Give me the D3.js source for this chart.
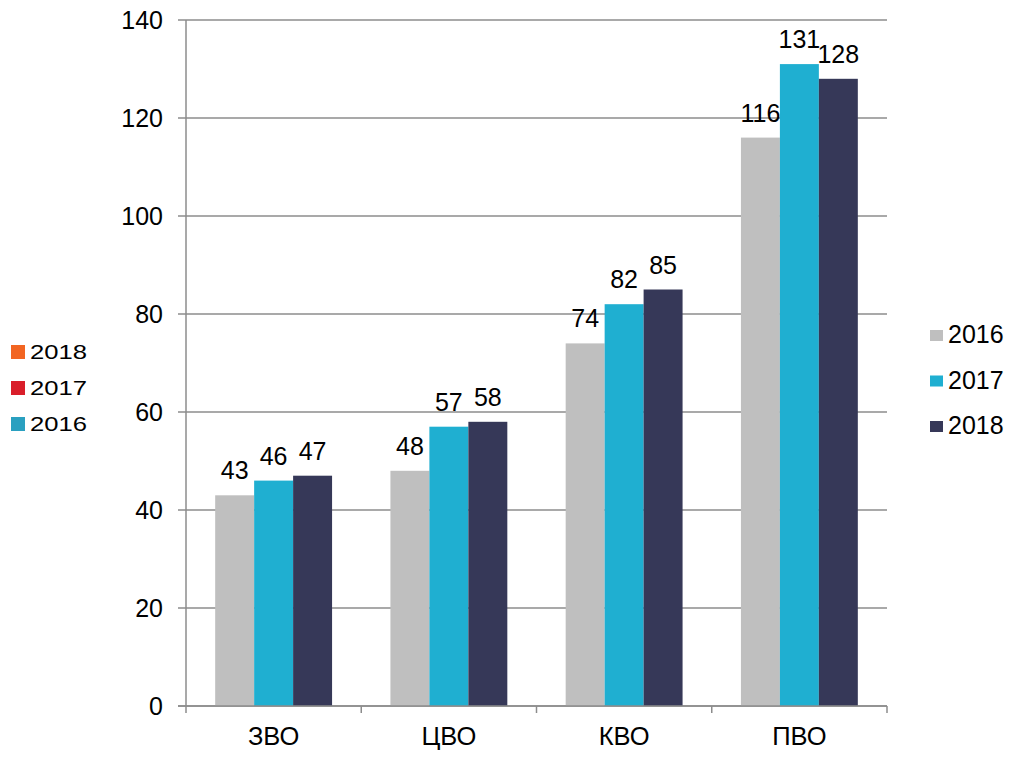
<!DOCTYPE html>
<html><head><meta charset="utf-8">
<script src="https://cdn.jsdelivr.net/npm/d3@7/dist/d3.min.js"></script>
<style>body{margin:0;background:#fff;} text{font-family:"Liberation Sans",Arial,sans-serif;}</style>
</head><body><svg id="c" width="1019" height="757"></svg>
<script>
const categories = ["ЗВО","ЦВО","КВО","ПВО"];
const series = ["2016","2017","2018"];
const values2016 = [43,48,74,116];
const values2017 = [46,57,82,131];
const values2018 = [47,58,85,128];
const yTicks = [0,20,40,60,80,100,120,140];
const colors = ["#bfbfbf","#1fafd1","#363858"];
const leftLegend = ["2018","2017","2016"];
const leftLegendColors = ["#f26522","#d91e2a","#2aa0c0"];

const svg = d3.select("#c");
const x0 = d3.scaleBand().domain(categories).range([186,887]).paddingInner(0.333).paddingOuter(0.1665);
const x1 = d3.scaleBand().domain(series).range([0,x0.bandwidth()]);
const y = d3.scaleLinear().domain([0,140]).range([706,20]);
const data = [values2016, values2017, values2018];

svg.append("g").selectAll("line").data(yTicks).join("line")
  .attr("x1",178).attr("x2",887).attr("y1",d=>y(d)).attr("y2",d=>y(d))
  .attr("stroke","#8c8c8c").attr("stroke-width",1.5);
svg.append("line").attr("x1",186).attr("x2",186).attr("y1",20).attr("y2",706).attr("stroke","#8c8c8c").attr("stroke-width",1.5);
svg.append("g").selectAll("text").data(yTicks).join("text")
  .attr("x",163).attr("y",d=>y(d)).attr("dy","0.36em").attr("text-anchor","end")
  .attr("font-size",25).attr("fill","#000").text(d=>d);
const bounds = [186, ...categories.map(c=>x0(c)+x0.bandwidth()+x0.step()*x0.paddingInner()/2)];
svg.append("g").selectAll("line").data(bounds).join("line")
  .attr("x1",d=>d).attr("x2",d=>d).attr("y1",706).attr("y2",713)
  .attr("stroke","#8c8c8c").attr("stroke-width",1.5);
categories.forEach((c,i)=>{
  series.forEach((s,j)=>{
    const v = data[j][i];
    svg.append("rect").attr("x",x0(c)+x1(s)).attr("width",x1.bandwidth())
      .attr("y",y(v)).attr("height",706-y(v)).attr("fill",colors[j]);
  });
});
svg.append("line").attr("x1",178).attr("x2",887).attr("y1",706).attr("y2",706).attr("stroke","#8c8c8c").attr("stroke-width",1.5);
categories.forEach((c,i)=>{
  series.forEach((s,j)=>{
    const v = data[j][i];
    svg.append("text").attr("x",x0(c)+x1(s)+x1.bandwidth()/2).attr("y",y(v)-16)
      .attr("text-anchor","middle").attr("font-size",25).attr("fill","#000").text(v);
  });
});
svg.append("g").selectAll("text").data(categories).join("text")
  .attr("x",d=>x0(d)+x0.bandwidth()/2).attr("y",745).attr("text-anchor","middle")
  .attr("font-size",25.5).attr("fill","#000").text(d=>d);
const rl = svg.append("g");
series.forEach((s,j)=>{
  const cy = 334 + j*45.5;
  rl.append("rect").attr("x",930).attr("y",cy-4).attr("width",13).attr("height",11).attr("fill",colors[j]);
  rl.append("text").attr("x",948).attr("y",cy).attr("dy","0.36em").attr("font-size",25).attr("fill","#000").text(s);
});
const ll = svg.append("g");
leftLegend.forEach((s,j)=>{
  const cy = 352 + j*36;
  ll.append("rect").attr("x",11).attr("y",cy-7).attr("width",14).attr("height",14).attr("fill",leftLegendColors[j]);
  ll.append("text").attr("transform",`translate(30,${cy}) scale(1.25,1)`).attr("dy","0.36em")
    .attr("font-size",20.5).attr("fill","#000").text(s);
});
</script></body></html>
